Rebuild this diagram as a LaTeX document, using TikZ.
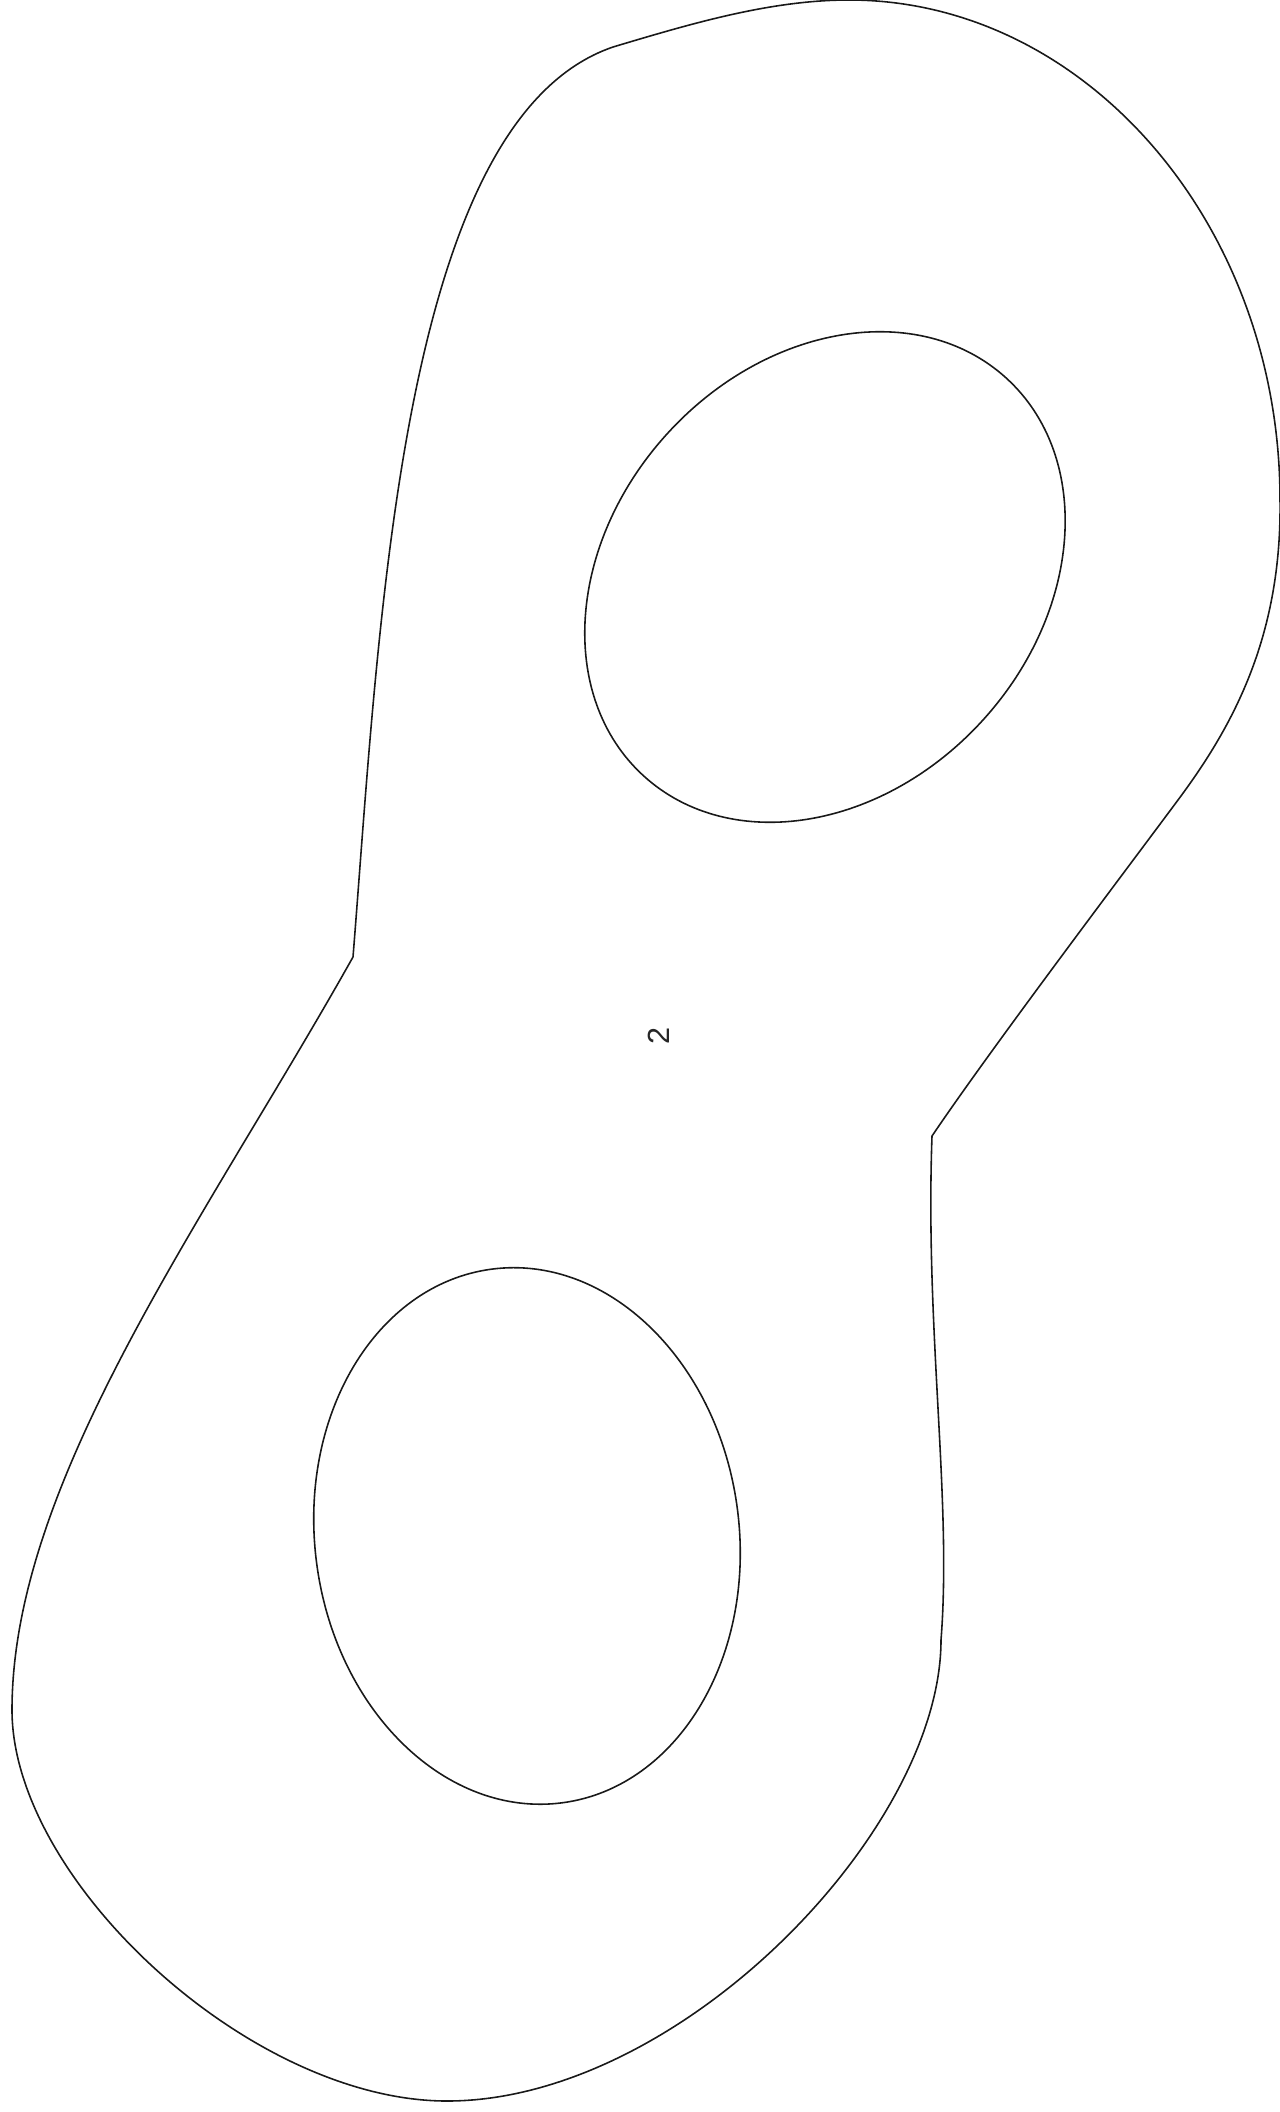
\documentclass[tikz,border=0pt]{standalone}
\usepackage{fontspec}
\setmainfont{Liberation Sans}
\begin{document}
\begin{tikzpicture}[x=0.01cm,y=-0.01cm,
  outline/.style={draw=black!90,line width=0.45pt,line join=round},
  hole/.style={draw=black!90,line width=0.45pt},
  lbl/.style={font=\fontsize{8.7}{10}\selectfont,text=black!85,inner sep=0pt,rotate=90}]
\useasboundingbox[fill=white] (0,0) rectangle (1280,2112);
% outer outline
\coordinate (A) at (353,957);
\coordinate (B) at (613,47);
\coordinate (T) at (849,0);
\coordinate (R) at (1280,500);
\coordinate (K) at (1178,800);
\coordinate (D) at (932,1136);
\coordinate (E) at (941,1640);
\coordinate (Bot) at (447,2101);
\coordinate (L) at (12,1710);
\draw[outline] (A)
  .. controls (380,620) and (400,120) .. (B)
  .. controls (690,24) and (770,0) .. (T)
  .. controls (1086,0) and (1280,225) .. (R)
  .. controls (1282,640) and (1230,730) .. (K)
  .. controls (1126,870) and (990,1050) .. (D)
  .. controls (925,1330) and (952,1500) .. (E)
  .. controls (941,1830) and (680,2101) .. (Bot)
  .. controls (250,2101) and (12,1880) .. (L)
  .. controls (12,1480) and (206,1219) .. (A) -- cycle;
% holes
\coordinate (H1) at (825,577);
\coordinate (H2) at (527,1536);
\draw[hole,rotate around={47.6:(H1)}] (H1) ellipse [x radius=2.69cm, y radius=2.13cm];
\draw[hole,rotate around={7.6:(H2)}] (H2) ellipse [x radius=2.12cm, y radius=2.69cm];
% label
\node[lbl] (two) at (659,1036) {2};
\end{tikzpicture}
\end{document}
